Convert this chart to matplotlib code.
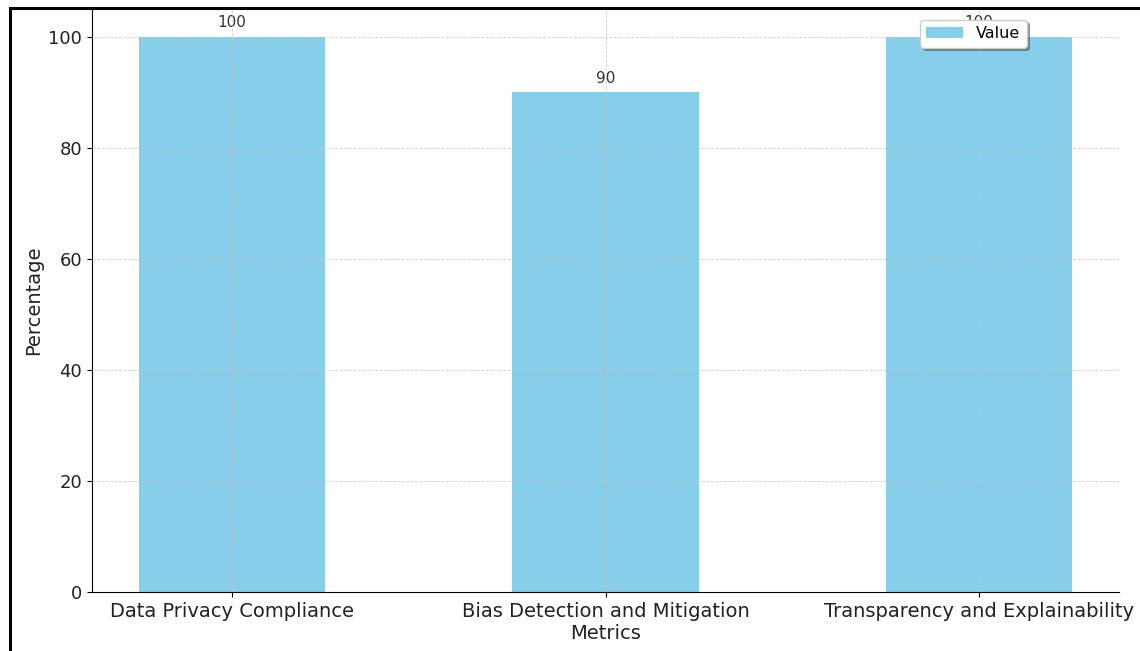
import matplotlib
matplotlib.use("Agg")
import matplotlib.pyplot as plt
from matplotlib.lines import Line2D

categories = ["Data Privacy Compliance",
              "Bias Detection and Mitigation\nMetrics",
              "Transparency and Explainability"]
values = [100, 90, 100]
series_name = "Value"
y_ticks = [0, 20, 40, 60, 80, 100]

fig = plt.figure(figsize=(11.4, 6.51), dpi=100)
ax = fig.add_axes([0.0807, 0.0906, 0.9009, 0.8952])

bars = ax.bar(range(len(categories)), values, width=0.5,
              color="skyblue", label=series_name, zorder=1)

for rect, v in zip(bars, values):
    ax.annotate(f"{v}", xy=(rect.get_x() + rect.get_width() / 2, v),
                xytext=(0, 5), textcoords="offset points",
                ha="center", va="bottom", fontsize=11, color="#333333",
                zorder=0.5)

ax.set_xticks(range(len(categories)))
ax.set_xticklabels(categories, fontsize=14, color="#222222")
ax.set_yticks(y_ticks)
ax.tick_params(axis="y", labelsize=13, labelcolor="#222222")
ax.set_ylim(0, 105)
ax.set_xlim(-0.375, 2.375)
ax.set_ylabel("Percentage", fontsize=14, color="#222222")

ax.grid(True, linestyle="--", linewidth=0.6, color="#c4c4c4", alpha=0.8, zorder=2)
ax.set_axisbelow(False)

for side in ("top", "right"):
    ax.spines[side].set_visible(False)

leg = ax.legend(loc="upper right", bbox_to_anchor=(0.91, 0.982),
                borderaxespad=0, fontsize=11.5, handlelength=2.3,
                shadow=True, fancybox=True, framealpha=1)
leg.set_zorder(5)

# frame lines along the top and left edge
fig.add_artist(Line2D([0.0088, 1.0], [0.9877, 0.9877], color="black",
                      linewidth=2.2, transform=fig.transFigure))
fig.add_artist(Line2D([0.0088, 0.0088], [0.0, 0.9877], color="black",
                      linewidth=2.2, transform=fig.transFigure))

fig.savefig("out.png", dpi=100)
